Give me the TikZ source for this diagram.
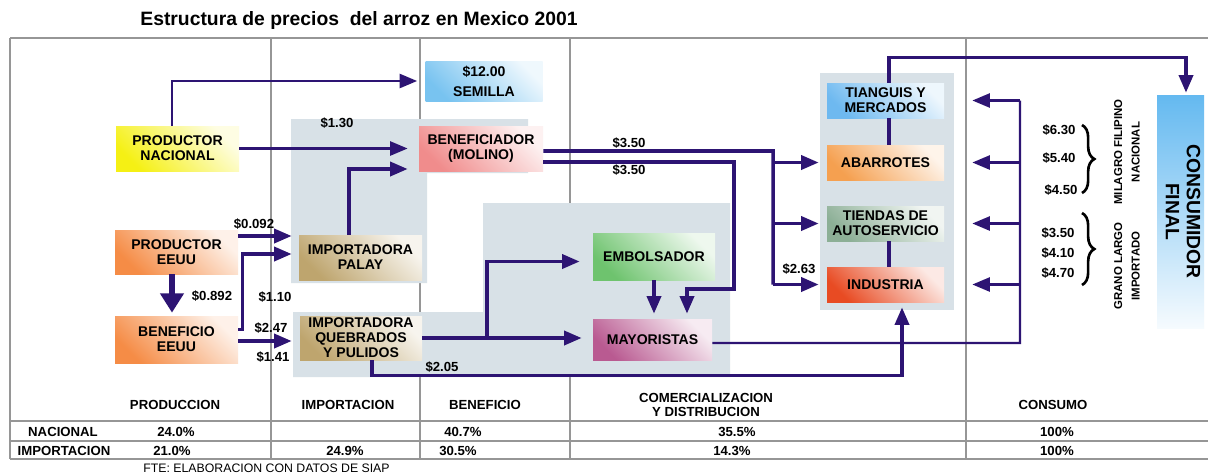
\documentclass[tikz,border=0pt]{standalone}
\usepackage{fontspec}
\setmainfont{Liberation Sans}
\setsansfont{Liberation Sans}
\usetikzlibrary{arrows.meta, decorations.pathreplacing}

\definecolor{arrowc}{RGB}{45,20,115}
\definecolor{panelc}{RGB}{216,225,231}
\definecolor{gridc}{RGB}{150,150,150}
\definecolor{semc}{RGB}{120,195,240}
\definecolor{nacc}{RGB}{245,240,20}
\definecolor{eeuuc}{RGB}{245,140,70}
\definecolor{impc}{RGB}{190,165,110}
\definecolor{benc}{RGB}{240,140,140}
\definecolor{embc}{RGB}{110,195,110}
\definecolor{mayc}{RGB}{185,90,145}
\definecolor{tiac}{RGB}{110,185,240}
\definecolor{abac}{RGB}{245,160,80}
\definecolor{tiec}{RGB}{140,175,150}
\definecolor{indc}{RGB}{232,75,35}
\definecolor{consc}{RGB}{100,185,240}

\begin{document}
\begin{tikzpicture}[x = .2mm, y = -.2mm,
    every node/.style = {inner sep = 0pt, font = \sffamily\bfseries\fontsize{8}{8.5}\selectfont},
    box/.style = {rectangle, align = center, top color = #1!12!white, bottom color = #1, shading angle = -45},
    wide/.style = {minimum width = 2.46cm, minimum height = .9cm},
    shop/.style = {minimum width = 2.34cm, minimum height = .7cm},
    flow/.style = {draw = arrowc, line width = 2pt, -{Triangle[length = 10pt, width = 8pt]}},
    thin/.style = {draw = arrowc, line width = 1.4pt, -{Triangle[length = 10pt, width = 8pt]}},
    link/.style = {draw = arrowc, line width = 2pt},
    price/.style = {font = \sffamily\bfseries\fontsize{7.5}{8}\selectfont},
    head/.style = {font = \sffamily\bfseries\fontsize{7.5}{8}\selectfont, align = center},
    variety/.style = {rotate = 90, align = center, font = \sffamily\bfseries\fontsize{6.5}{10}\selectfont},
    curly/.style = {draw = black, decorate, decoration = {brace, amplitude = 7pt}, line width = 1.5pt},
    grid/.style = {draw = gridc, line width = .6pt}]
    \useasboundingbox (0, 0) rectangle (1208, 475);
    \fill[white] (0, 0) rectangle (1208, 475);
    % frame and table
    \foreach \x in {10, 271, 420, 570, 966}
        \draw[grid] (\x, 38) -- (\x, 459);
    \foreach \y in {421, 441, 459}
        \draw[grid] (10, \y) -- (1208, \y);
    \draw[grid, line width = 1.2pt] (10, 38) -- (1208, 38);
    % textured panels
    \fill[panelc] (291, 119) rectangle (528, 173) (291, 119) rectangle (427, 283);
    \fill[panelc] (293, 312) rectangle (730, 377) (483, 203) rectangle (730, 377);
    \fill[panelc] (820, 73) rectangle (954, 310);

    \node[font = \sffamily\bfseries\fontsize{11}{13}\selectfont] (title) at (359, 20) {Estructura de precios~ del arroz en Mexico 2001};

    \node[box = semc, minimum width = 2.34cm, minimum height = .8cm] (semilla) at (484, 81) {\$12.00\\[3pt]SEMILLA};
    \node[box = nacc, wide] (prodnac) at (177.5, 148.5) {PRODUCTOR\\NACIONAL};
    \node[box = benc, minimum width = 2.48cm, minimum height = .9cm] (benef) at (481, 148.5) {BENEFICIADOR\\(MOLINO)};
    \node[box = eeuuc, wide, minimum height = .88cm] (prodeeuu) at (176.5, 252) {PRODUCTOR\\EEUU};
    \node[box = eeuuc, wide, minimum height = .94cm] (benefeeuu) at (176.5, 339.5) {BENEFICIO\\EEUU};
    \node[box = impc, wide] (palay) at (360.5, 257.5) {IMPORTADORA\\PALAY};
    \node[box = impc, minimum width = 2.44cm, minimum height = .88cm] (quebrados) at (361, 338) {IMPORTADORA\\QUEBRADOS\\Y PULIDOS};
    \node[box = embc, minimum width = 2.44cm, minimum height = .94cm] (embolsador) at (654, 256.5) {EMBOLSADOR};
    \node[box = mayc, minimum width = 2.38cm, minimum height = .82cm] (mayoristas) at (652.5, 339.5) {MAYORISTAS};
    \node[box = tiac, shop] (tianguis) at (885.5, 100.5) {TIANGUIS Y\\MERCADOS};
    \node[box = abac, shop] (abarrotes) at (885.5, 162.5) {ABARROTES};
    \node[box = tiec, shop] (tiendas) at (885.5, 223.5) {TIENDAS DE\\AUTOSERVICIO};
    \node[box = indc, shop] (industria) at (885.5, 284.5) {INDUSTRIA};
    \node[rectangle, top color = consc, bottom color = consc!6!white, minimum width = .94cm, minimum height = 4.66cm, font = \sffamily\bfseries\fontsize{11}{12}\selectfont] (consumidor) at (1180.5, 211.5) {\rotatebox{-90}{\begin{tabular}{@{}c@{}}CONSUMIDOR\\FINAL\end{tabular}}};

    % prices
    \node[price] (p130) at (337, 123) {\$1.30};
    \node[price] (p0092) at (254, 224) {\$0.092};
    \node[price] (p0892) at (212, 296) {\$0.892};
    \node[price] (p110) at (275, 297) {\$1.10};
    \node[price] (p247) at (271, 328) {\$2.47};
    \node[price] (p141) at (273, 357) {\$1.41};
    \node[price] (p205) at (442, 367) {\$2.05};
    \node[price] (p350a) at (629, 143) {\$3.50};
    \node[price] (p350b) at (629, 170) {\$3.50};
    \node[price] (p263) at (799, 269) {\$2.63};
    \node[price] (p630) at (1059, 130) {\$6.30};
    \node[price] (p540) at (1059, 158) {\$5.40};
    \node[price] (p450) at (1061, 190) {\$4.50};
    \node[price] (p350c) at (1058, 233) {\$3.50};
    \node[price] (p410) at (1058, 253) {\$4.10};
    \node[price] (p470) at (1058, 273) {\$4.70};
    \draw[curly] (1082, 125) -- (1082, 193);
    \draw[curly] (1082, 213) -- (1082, 285);
    \node[variety] (milagro) at (1127, 152) {MILAGRO FILIPINO\\NACIONAL};
    \node[variety] (grano) at (1127, 266) {GRANO LARGO\\IMPORTADO};

    % table
    \node[head] (hprod) at (175, 405) {PRODUCCION};
    \node[head] (himp) at (348, 405) {IMPORTACION};
    \node[head] (hben) at (485, 405) {BENEFICIO};
    \node[head] (hcom) at (706, 405) {COMERCIALIZACION\\Y DISTRIBUCION};
    \node[head] (hcon) at (1053, 405) {CONSUMO};
    \node[head] (nac) at (63, 432) {NACIONAL};
    \node[head] (nacprod) at (176, 432) {24.0\%};
    \node[head] (nacben) at (463, 432) {40.7\%};
    \node[head] (naccom) at (737, 432) {35.5\%};
    \node[head] (naccon) at (1057, 432) {100\%};
    \node[head] (imp) at (64, 451) {IMPORTACION};
    \node[head] (impprod) at (172, 451) {21.0\%};
    \node[head] (impimp) at (345, 451) {24.9\%};
    \node[head] (impben) at (458, 451) {30.5\%};
    \node[head] (impcom) at (732, 451) {14.3\%};
    \node[head] (impcon) at (1057, 451) {100\%};
    \node[anchor = west, font = \sffamily\fontsize{7}{8}\selectfont] (fte) at (143, 468) {FTE: ELABORACION CON DATOS DE SIAP};

    % connectors
    \draw[thin, shorten > = .16cm] ([xshift = -.11cm]prodnac.north) |- (semilla.west);
    \draw[thin, shorten > = .22cm] (prodnac) -- (benef);
    \draw[flow, shorten > = .22cm] ([xshift = -.23cm]palay.north) |- ([yshift = -.41cm]benef.west);
    \draw[flow, shorten > = .14cm] ([yshift = .32cm]prodeeuu.east) -- ([yshift = .32cm]prodeeuu.east -| palay.west);
    \draw[flow, shorten > = .14cm] ([yshift = .2cm]benefeeuu.east) -- ++(4, 0) |- ([yshift = .07cm]palay.west);
    \draw[draw = arrowc, line width = 3.2pt, -{Triangle[length = 11pt, width = 13pt]}, shorten > = .06cm] ([xshift = -.09cm]prodeeuu.south) -- ([xshift = -.09cm]benefeeuu.north);
    \draw[flow, shorten > = .16cm] ([yshift = -.03cm]benefeeuu.east) -- ([yshift = -.03cm]benefeeuu.east -| quebrados.west);
    \draw[flow, shorten > = .22cm] (quebrados.east) -- (quebrados.east -| mayoristas.west);
    \coordinate (split) at (487, 338);
    \draw[flow, shorten > = .26cm] (split) |- ([yshift = -.1cm]embolsador.west);
    \draw[flow, shorten > = .1cm] (embolsador.south) -- (embolsador.south |- mayoristas.north);
    \coordinate (bus) at (773, 151);
    \draw[link] ([yshift = -.05cm]benef.east) -- (bus) -- (bus |- industria.west);
    \foreach \n in {abarrotes, tiendas, industria}
        \draw[flow, shorten > = .16cm] (bus |- \n.west) -- (\n.west);
    \coordinate (drop) at (734, 289);
    \draw[flow, shorten > = .1cm] ([yshift = -.27cm]benef.east) -| (drop) -| ([xshift = .69cm]mayoristas.north);
    \coordinate (ret) at (1020, 343);
    \draw[draw = arrowc, line width = 1.4pt] ([yshift = -.07cm]mayoristas.east) -- (ret) -- (ret |- tianguis.east);
    \foreach \n in {tianguis, abarrotes, tiendas, industria}
        \draw[thin, shorten > = .56cm] (ret |- \n.east) -- (\n.east);
    \draw[flow, shorten > = .1cm] ([xshift = .22cm]quebrados.south) -- ++(0, 15) -| ([xshift = .33cm]industria.south);
    \draw[flow, shorten > = .04cm] ([xshift = .07cm]tianguis.north) -- ++(0, -25) -| ([xshift = .11cm]consumidor.north);
    \draw[link] ([xshift = .07cm]tianguis.south) -- ([xshift = .07cm]abarrotes.north);
    \draw[link] ([xshift = .07cm]tiendas.south) -- ([xshift = .07cm]industria.north);
\end{tikzpicture}
\end{document}
